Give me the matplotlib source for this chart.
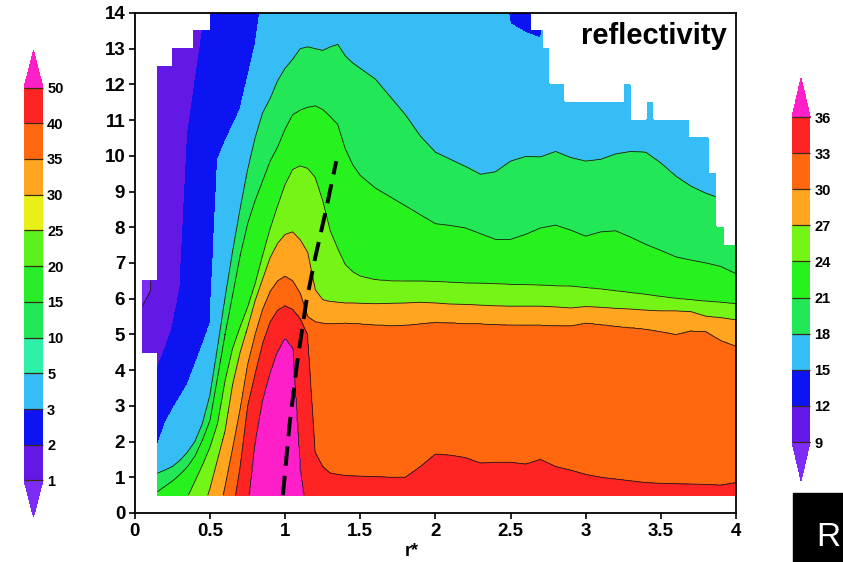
import numpy as np
import matplotlib
matplotlib.use('Agg')
import matplotlib.pyplot as plt
from matplotlib.colors import ListedColormap, BoundaryNorm
from matplotlib.patches import Rectangle
import matplotlib.cm as cm

plt.rcParams['font.family'] = ['Liberation Sans', 'DejaVu Sans']
plt.rcParams['font.weight'] = 'bold'

# main panel levels (dBZ) and colours
levels = [9, 12, 15, 18, 21, 24, 27, 30, 33, 36]
band_colors = ['#6418e6', '#0c14f2', '#36bdf5', '#22e858', '#28f21e',
               '#74f516', '#ffa51f', '#ff680f', '#ff2424']
under_color = '#7d2cf5'
over_color = '#ff1fc8'

# left colour bar
left_levels = [1, 2, 3, 5, 10, 15, 20, 25, 30, 35, 40, 50]
left_colors = ['#6418e6', '#0c14f2', '#36bdf5', '#2ef0a8', '#22e858', '#28ee2a',
               '#5cf01c', '#e8f018', '#ffa51f', '#ff680f', '#ff2424']

# r* columns and height (km) where the field crosses each level
r_cols = [0.05, 0.10, 0.15, 0.20, 0.25, 0.30, 0.35, 0.40, 0.45, 0.50,
          0.55, 0.60, 0.65, 0.70, 0.75, 0.80, 0.85, 0.90, 0.95, 1.00,
          1.05, 1.10, 1.15, 1.20, 1.25, 1.30, 1.35, 1.40, 1.45, 1.50,
          1.6, 1.7, 1.8, 1.9, 2.0, 2.1, 2.2, 2.3, 2.4, 2.5,
          2.6, 2.7, 2.8, 2.9, 3.0, 3.1, 3.2, 3.3, 3.4, 3.5,
          3.6, 3.7, 3.8, 3.9, 4.0]

h36 = [-3, -3, -3, -3, -3, -3, -3, -3, -3, -3,
       -3, -3, -3, -3, 0.0, 1.9, 3.1, 3.9, 4.5, 4.88,
       4.6, 1.2, -0.3, -3, -3, -3, -3, -3, -3, -3,
       -3, -3, -3, -3, -3, -3, -3, -3, -3, -3,
       -3, -3, -3, -3, -3, -3, -3, -3, -3, -3,
       -3, -3, -3, -3, -3]
h33 = [-2.5, -2.5, -2.5, -2.5, -2.5, -2.5, -2.5, -2.5, -2.5, -2.5,
       -2.5, -2.5, 0.0, 1.3, 3.0, 3.9, 4.75, 5.35, 5.68, 5.8,
       5.7, 5.45, 5.0, 1.7, 1.3, 1.12, 1.08, 1.05, 1.04, 1.03,
       1.02, 1.0, 1.0, 1.3, 1.65, 1.62, 1.55, 1.4, 1.42, 1.42,
       1.37, 1.5, 1.3, 1.2, 1.08, 1.0, 0.95, 0.9, 0.85, 0.83,
       0.82, 0.81, 0.8, 0.78, 0.85]
h30 = [-2, -2, -2, -2, -2, -2, -2, -2, -2, -2,
       -0.2, 0.75, 1.8, 2.9, 4.15, 5.0, 5.7, 6.2, 6.5, 6.63,
       6.5, 6.15, 5.5, 5.36, 5.32, 5.3, 5.31, 5.32, 5.31, 5.3,
       5.27, 5.25, 5.26, 5.3, 5.34, 5.33, 5.3, 5.3, 5.28, 5.27,
       5.26, 5.26, 5.25, 5.24, 5.32, 5.28, 5.23, 5.19, 5.15, 5.08,
       5.0, 5.1, 5.08, 4.83, 4.67]
h27 = [-1.5, -1.5, -1.5, -1.5, -1.5, -1.5, -1.5, -1.5, 0.05, 0.7,
       1.5, 2.3, 3.6, 4.5, 5.2, 5.95, 6.55, 7.15, 7.55, 7.8,
       7.87, 7.65, 7.3, 6.25, 5.97, 5.92, 5.9, 5.88, 5.88, 5.87,
       5.86, 5.87, 5.88, 5.9, 5.88, 5.85, 5.84, 5.82, 5.8, 5.79,
       5.79, 5.79, 5.77, 5.74, 5.78, 5.76, 5.73, 5.71, 5.68, 5.66,
       5.66, 5.64, 5.51, 5.47, 5.41]
h24 = [-1, -1, -1, -1, -1, -0.1, 0.45, 0.9, 1.35, 1.85,
       2.5, 3.7, 4.6, 5.2, 5.75, 6.4, 7.2, 7.95, 8.6, 9.2,
       9.62, 9.72, 9.65, 9.4, 8.75, 7.9, 7.4, 6.95, 6.75, 6.63,
       6.53, 6.5, 6.49, 6.49, 6.48, 6.46, 6.44, 6.43, 6.42, 6.4,
       6.39, 6.38, 6.36, 6.35, 6.31, 6.27, 6.22, 6.17, 6.12, 6.06,
       6.01, 5.97, 5.93, 5.9, 5.86]
h21 = [0.4, 0.5, 0.6, 0.75, 0.9, 1.08, 1.3, 1.6, 2.05, 2.6,
       3.8, 5.0, 6.1, 7.2, 8.1, 8.75, 9.3, 9.85, 10.25, 10.75,
       11.15, 11.28, 11.36, 11.4, 11.3, 11.1, 10.88, 10.2, 9.75, 9.45,
       9.1, 8.85, 8.6, 8.35, 8.1, 8.05, 7.98, 7.82, 7.66, 7.66,
       7.8, 7.98, 8.06, 7.92, 7.75, 7.87, 7.9, 7.72, 7.52, 7.35,
       7.17, 7.08, 7.0, 6.9, 6.7]
h18 = [0.9, 1.0, 1.11, 1.2, 1.3, 1.47, 1.7, 2.0, 2.5, 3.3,
       4.6, 6.0, 7.3, 8.5, 9.6, 10.5, 11.2, 11.6, 12.1, 12.45,
       12.7, 13.0, 13.05, 13.0, 12.95, 13.05, 13.12, 12.8, 12.6, 12.45,
       12.15, 11.65, 11.15, 10.55, 10.1, 9.9, 9.7, 9.48, 9.55, 9.85,
       9.98, 9.97, 10.12, 9.95, 9.85, 9.9, 10.05, 10.12, 10.1, 9.8,
       9.43, 9.15, 8.95, 8.8, 8.7]
h15 = [1.8, 1.85, 1.9, 2.5, 2.9, 3.25, 3.6, 4.15, 4.7, 5.3,
       9.9, 10.4, 10.85, 11.3, 12.2, 13.1, 14.6, 16, 16, 16,
       16, 16, 16, 16, 16, 16, 16, 16, 16, 16,
       16, 16, 16, 16, 16, 16, 16, 16, 16, 13.7,
       13.45, 13.3, 16, 16, 16, 16, 16, 16, 16, 16,
       16, 16, 16, 16, 16]
h12 = [3.0, 3.5, 4.05, 4.6, 5.2, 6.3, 10.6, 12.1, 13.55, 15.5,
       17, 17, 17, 17, 17, 17, 17, 17, 17, 17,
       17, 17, 17, 17, 17, 17, 17, 17, 17, 17,
       17, 17, 17, 17, 17, 17, 17, 17, 17, 17,
       17, 17, 17, 17, 17, 17, 17, 17, 17, 17,
       17, 17, 17, 17, 17]
h9 = [5.8, 6.2, 18, 18, 18, 18, 18, 18, 18, 18,
      18, 18, 18, 18, 18, 18, 18, 18, 18, 18,
      18, 18, 18, 18, 18, 18, 18, 18, 18, 18,
      18, 18, 18, 18, 18, 18, 18, 18, 18, 18,
      18, 18, 18, 18, 18, 18, 18, 18, 18, 18,
      18, 18, 18, 18, 18]

# upper edge of the data (white staircase), from r* onwards
top_r = [0.05, 0.15, 0.25, 0.39, 0.50, 2.64, 2.72, 2.76, 2.86, 3.26,
         3.30, 3.41, 3.45, 3.69, 3.82, 3.87, 3.92]
top_z = [6.5, 12.5, 13.0, 13.5, 14.0, 13.5, 13.0, 12.0, 11.5, 12.0,
         11.0, 11.5, 11.0, 10.5, 9.5, 8.0, 7.5]

# dashed line
dash_r = [0.985, 1.03, 1.08, 1.14, 1.20, 1.27, 1.34]
dash_z = [0.5, 2.5, 4.2, 5.9, 7.15, 8.45, 9.85]

xtick_labels = ['0', '0.5', '1', '1.5', '2', '2.5', '3', '3.5', '4']

# build the field
rr = np.linspace(0.05, 4.0, 791)
zz = np.linspace(0.5, 14.0, 676)
H = np.array([h36, h33, h30, h27, h24, h21, h18, h15, h12, h9], dtype=float)
vals = np.array(levels[::-1], dtype=float)
Hf = np.array([np.interp(rr, r_cols, h) for h in H])
F = np.empty((len(zz), len(rr)))
for j in range(len(rr)):
    F[:, j] = np.interp(zz, Hf[:, j], vals, left=38, right=7)

R, Z = np.meshgrid(rr, zz)
idx = np.searchsorted(top_r, rr + 1e-9, side='right') - 1
top = np.array(top_z)[idx][None, :]
mask = (Z > top + 1e-9) | ((R < 0.15 - 1e-9) & (Z < 4.5 - 1e-9))
Fm = np.ma.masked_array(F, mask=mask)

fig = plt.figure(figsize=(8.43, 5.62), dpi=100)
ax = fig.add_axes([0.160, 0.0872, 0.713, 0.8897])

cmap = ListedColormap(band_colors)
cmap.set_under(under_color)
cmap.set_over(over_color)
norm = BoundaryNorm(levels, cmap.N)
ax.contourf(R, Z, Fm, levels=levels, cmap=cmap, norm=norm, extend='both')
ax.contour(R, Z, Fm, levels=[9, 18, 21, 24, 27, 30, 33, 36], colors='#1a1a1a',
           linewidths=0.6)
ax.plot(dash_r, dash_z, color='black', lw=2.8, dashes=(5, 2.6))

ax.set_xlim(0, 4)
ax.set_ylim(0, 14)
ax.set_xticks(np.arange(0, 4.01, 0.5))
ax.set_xticklabels(xtick_labels)
ax.set_yticks(range(15))
ax.tick_params(direction='out', length=4, width=1.2, labelsize=13.5, pad=3)
for s in ax.spines.values():
    s.set_linewidth(1.3)

ax.text(0.985, 0.938, 'reflectivity', transform=ax.transAxes, ha='right',
        va='baseline', fontsize=21, fontweight='bold')
fig.text(412 / 843, 0.003, 'r*', ha='center', va='bottom', fontsize=13,
         fontweight='bold')

# left colour bar
cmap_l = ListedColormap(left_colors)
cmap_l.set_under(under_color)
cmap_l.set_over(over_color)
norm_l = BoundaryNorm(left_levels, cmap_l.N)
cax_l = fig.add_axes([0.0285, 0.0801, 0.0225, 0.8292])
cb_l = fig.colorbar(cm.ScalarMappable(norm=norm_l, cmap=cmap_l), cax=cax_l,
                    extend='both', extendfrac=0.093, ticks=left_levels,
                    drawedges=True, spacing='uniform')

# right colour bar
cax_r = fig.add_axes([0.9395, 0.1441, 0.0215, 0.7171])
cb_r = fig.colorbar(cm.ScalarMappable(norm=norm, cmap=cmap), cax=cax_r,
                    extend='both', extendfrac=0.12, ticks=levels,
                    drawedges=True, spacing='uniform')

for cb, labs in ((cb_l, left_levels), (cb_r, levels)):
    cb.outline.set_linewidth(0)
    cb.dividers.set_color('#3a2a10')
    cb.dividers.set_linewidth(0.9)
    cb.ax.tick_params(length=0, labelsize=10.5, pad=3)
    cb.ax.set_yticklabels([str(v) for v in labs])

# black corner tag
fig.patches.append(Rectangle((793 / 843, 0), 50 / 843, 69 / 562,
                             transform=fig.transFigure, color='black'))
fig.text(828 / 843, 25 / 562, 'R', color='white', ha='center', va='center',
         fontsize=24, fontweight='normal')

fig.savefig('out.png', dpi=100)
plt.close(fig)
